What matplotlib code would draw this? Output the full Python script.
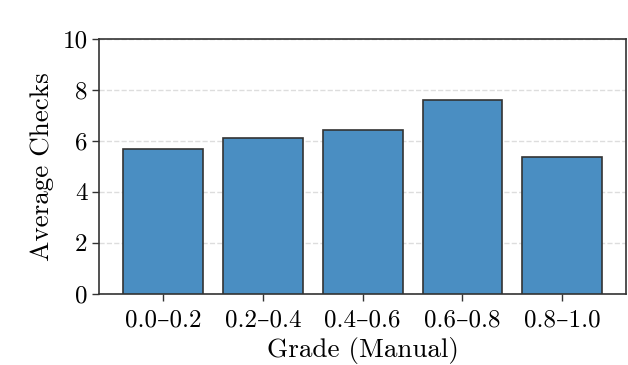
import matplotlib
matplotlib.use('Agg')
import matplotlib.pyplot as plt

# data
grades = ['0.0–0.2', '0.2–0.4', '0.4–0.6', '0.6–0.8', '0.8–1.0']
avg_checks = [5.70, 6.13, 6.44, 7.61, 5.36]
yticks = [0, 2, 4, 6, 8, 10]

plt.rcParams['font.family'] = ['cmr10', 'DejaVu Serif']
plt.rcParams['mathtext.fontset'] = 'cm'
plt.rcParams['axes.unicode_minus'] = False
plt.rcParams['axes.formatter.use_mathtext'] = True

fig, ax = plt.subplots(figsize=(6.28, 3.65), dpi=100)
ax.bar(range(len(grades)), avg_checks, width=0.8, color='#4a8ec2',
       edgecolor='#333333', linewidth=1.2, zorder=3)

ax.set_ylim(0, 10)
ax.set_yticks(yticks)
ax.set_yticklabels([str(t) for t in yticks])
ax.set_xticks(range(len(grades)))
ax.set_xticklabels(grades)
ax.tick_params(labelsize=18, length=5, width=1.0, color='#333333')
ax.tick_params(axis='x', pad=6)
ax.yaxis.grid(True, linestyle='--', color='#dddddd', linewidth=1.0, zorder=0)
ax.set_axisbelow(True)
for s in ax.spines.values():
    s.set_color('#333333')
    s.set_linewidth(1.2)

ax.set_xlabel('Grade (Manual)', fontsize=19.5, labelpad=4)
ax.set_ylabel('Average Checks', fontsize=19.5, labelpad=6)

fig.subplots_adjust(left=0.158, right=0.997, top=0.893, bottom=0.195)
fig.savefig('out.png', dpi=100)
